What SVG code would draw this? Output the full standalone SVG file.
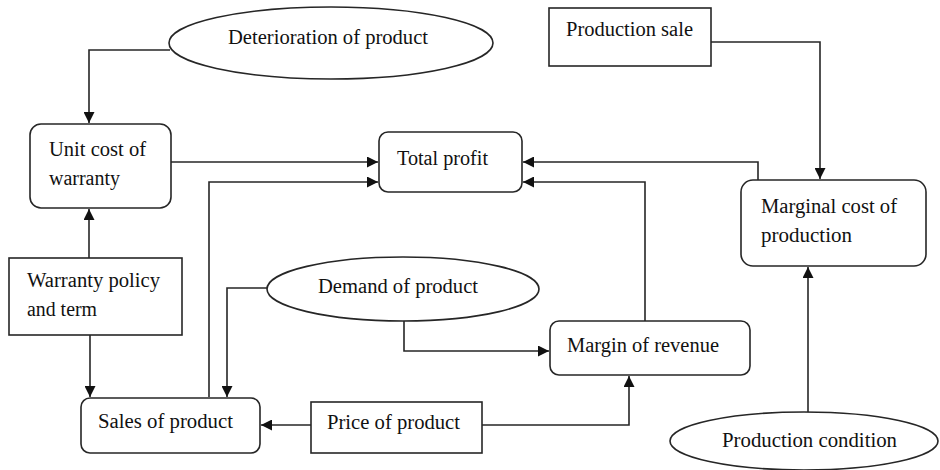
<svg xmlns="http://www.w3.org/2000/svg" width="940" height="470" viewBox="0 0 940 470">
<defs>
<style>
.shape{fill:#fff;stroke:#262626;stroke-width:1.6}
.conn path{fill:none;stroke:#262626;stroke-width:1.6}
.lbl text{font-family:"Liberation Serif","DejaVu Serif","Noto Serif","Times New Roman",serif;font-size:20px;fill:#111}
</style>
<marker id="arr" viewBox="0 0 10 10" refX="10" refY="5" markerWidth="11" markerHeight="11" markerUnits="userSpaceOnUse" orient="auto">
<path d="M0,0 L10,5 L0,10 z" fill="#111"/>
</marker>
</defs>
<rect width="940" height="470" fill="#fff"/>
<g class="conn">
<path d="M170,50 H89 V123" marker-end="url(#arr)"/>
<path d="M171,162 H378" marker-end="url(#arr)"/>
<path d="M209,397 V182 H378" marker-end="url(#arr)"/>
<path d="M758,180 V162 H523" marker-end="url(#arr)"/>
<path d="M645,321 V182 H523" marker-end="url(#arr)"/>
<path d="M711,42 H820 V179" marker-end="url(#arr)"/>
<path d="M808,412 V267" marker-end="url(#arr)"/>
<path d="M404,321 V351 H549" marker-end="url(#arr)"/>
<path d="M267,288 H227 V397" marker-end="url(#arr)"/>
<path d="M89,258 V209" marker-end="url(#arr)"/>
<path d="M90,335 V397" marker-end="url(#arr)"/>
<path d="M311,425 H261" marker-end="url(#arr)"/>
<path d="M482,425 H629 V376" marker-end="url(#arr)"/>
</g>
<g class="lbl" font-family="Liberation Serif, DejaVu Serif, serif">
<g id="deterioration">
<ellipse class="shape" cx="331" cy="43" rx="162" ry="36"/>
<text x="228" y="44" textLength="200" lengthAdjust="spacingAndGlyphs">Deterioration of product</text>
</g>
<g id="production-sale">
<rect class="shape" x="549" y="8" width="162" height="58"/>
<text x="566" y="36" textLength="127" lengthAdjust="spacingAndGlyphs">Production sale</text>
</g>
<g id="unit-cost">
<rect class="shape" x="30" y="124" width="141" height="84" rx="11"/>
<text x="49" y="156" textLength="97" lengthAdjust="spacingAndGlyphs">Unit cost of</text>
<text x="49" y="185" textLength="71" lengthAdjust="spacingAndGlyphs">warranty</text>
</g>
<g id="total-profit">
<rect class="shape" x="379" y="132" width="143" height="60" rx="9"/>
<text x="397" y="165" textLength="91" lengthAdjust="spacingAndGlyphs">Total profit</text>
</g>
<g id="marginal-cost">
<rect class="shape" x="741" y="180" width="185" height="86" rx="12"/>
<text x="761" y="213" textLength="136" lengthAdjust="spacingAndGlyphs">Marginal cost of</text>
<text x="761" y="242" textLength="91" lengthAdjust="spacingAndGlyphs">production</text>
</g>
<g id="warranty-policy">
<rect class="shape" x="9" y="258" width="173" height="77"/>
<text x="27" y="287" textLength="133" lengthAdjust="spacingAndGlyphs">Warranty policy</text>
<text x="27" y="316" textLength="70" lengthAdjust="spacingAndGlyphs">and term</text>
</g>
<g id="demand">
<ellipse class="shape" cx="403" cy="289" rx="136" ry="32"/>
<text x="318" y="293" textLength="160" lengthAdjust="spacingAndGlyphs">Demand of product</text>
</g>
<g id="margin-revenue">
<rect class="shape" x="550" y="321" width="200" height="54" rx="9"/>
<text x="567" y="352" textLength="152" lengthAdjust="spacingAndGlyphs">Margin of revenue</text>
</g>
<g id="sales">
<rect class="shape" x="81" y="398" width="179" height="55" rx="9"/>
<text x="98" y="428" textLength="135" lengthAdjust="spacingAndGlyphs">Sales of product</text>
</g>
<g id="price">
<rect class="shape" x="311" y="402" width="171" height="51"/>
<text x="327" y="429" textLength="133" lengthAdjust="spacingAndGlyphs">Price of product</text>
</g>
<g id="production-condition">
<ellipse class="shape" cx="804" cy="441" rx="134" ry="29"/>
<text x="722" y="447" textLength="175" lengthAdjust="spacingAndGlyphs">Production condition</text>
</g>
</g>
</svg>
